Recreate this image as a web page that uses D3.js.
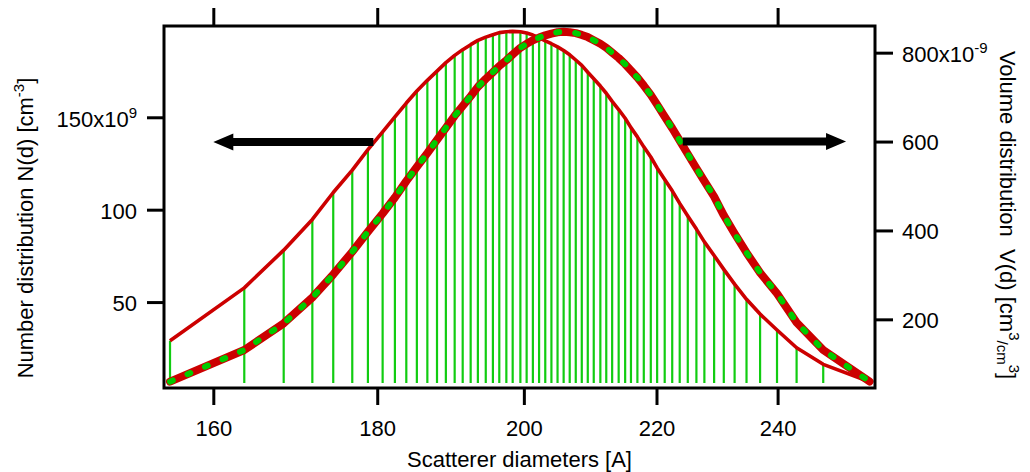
<!DOCTYPE html>
<html>
<head>
<meta charset="utf-8">
<script src="https://cdn.jsdelivr.net/npm/d3@7"></script>
<style>
body { margin: 0; background: #fff; }
svg { display: block; font-family: "Liberation Sans", Arial, Helvetica, sans-serif; }
</style>
</head>
<body>
<svg id="board" width="1030" height="472"></svg>
<script>
// Scatterer diameters [A] (log axis)
let diameters = [155.1, 163.6, 168.3, 171.8, 174.4, 176.8, 178.8, 180.7, 182.3, 183.8,
    185.2, 186.6, 187.9, 189.1, 190.3, 191.4, 192.5, 193.5, 194.6, 195.6,
    196.5, 197.5, 198.4, 199.5, 200.4, 201.3, 202.2, 203.1, 204.0, 204.9,
    205.8, 206.7, 207.6, 208.5, 209.4, 210.3, 211.3, 212.2, 213.1, 214.1,
    215.1, 216.0, 217.0, 218.0, 219.1, 220.1, 221.3, 222.5, 223.7, 225.0,
    226.4, 227.7, 229.3, 230.9, 232.7, 234.7, 237.0, 239.9, 243.3, 248.0, 256.4]

// Number distribution N(d), units of 1e9 cm^-3
let numberDist = [29.1, 57.7, 78.1, 94.7, 109.3, 121.4, 132.5, 142.1, 150.2, 157.7,
    164.2, 170.0, 175.0, 179.6, 183.5, 186.6, 189.3, 191.6, 193.4, 194.7,
    195.8, 196.3, 196.5, 196.3, 195.6, 194.5, 193.1, 191.4, 189.8, 188.1,
    186.1, 183.8, 181.0, 178.1, 174.4, 170.9, 166.9, 163.0, 158.6, 154.2,
    149.5, 144.4, 139.4, 134.0, 128.5, 122.6, 116.3, 110.2, 103.4, 96.6,
    89.5, 82.6, 75.2, 67.7, 59.7, 51.5, 43.5, 34.9, 25.3, 16.3, 6.9]

// Volume distribution V(d), units of 1e-9 cm^3/cm^3
let volumeDist = [59.8, 131, 191, 249, 301, 352, 397, 438, 474, 511,
    543, 574, 604, 631, 658, 680, 702, 723, 741, 756,
    770, 783, 796, 811, 820, 828, 834, 839, 843, 846,
    847, 846, 844, 840, 835, 828, 820, 811, 800, 788,
    774, 760, 744, 726, 705, 683, 656, 630, 602, 572,
    540, 511, 476, 434, 393, 350, 305, 258, 193, 131, 60]

let barBase = 6.2

let xTicks = [160, 180, 200, 220, 240]
let nTicks = [50, 100, 150]
let vTicks = [200, 400, 600, 800]

let xDomain = [154.43, 257.4]
let nDomain = [3.5, 199.4]
let vDomain = [45.5, 860]

// arrows: [from d, to d, value] ; left one on N axis, right one on V axis
let nArrow = [179.5, 160, 136.6]
let vArrow = [224.2, 252.1, 600]

let red = '#cc0000'
let green = '#11cc11'

let plotLeft = 164, plotRight = 875, plotTop = 26, plotBottom = 388

let board = d3.select('#board')

let xScale = d3.scaleLog().domain(xDomain).range([plotLeft, plotRight])
let nScale = d3.scaleLinear().domain(nDomain).range([plotBottom, plotTop])
let vScale = d3.scaleLinear().domain(vDomain).range([plotBottom, plotTop])

let rows = diameters.map((d, i) => ({ d: d, n: numberDist[i], v: volumeDist[i] }))

// sticks
board.append('g')
    .selectAll('line')
    .data(rows)
    .enter()
    .append('line')
    .attr('x1', (r) => xScale(r.d))
    .attr('x2', (r) => xScale(r.d))
    .attr('y1', nScale(barBase))
    .attr('y2', (r) => nScale(r.n))
    .attr('stroke', green)
    .attr('stroke-width', 2.2)

// N(d) line
let nLine = d3.line().x((r) => xScale(r.d)).y((r) => nScale(r.n))
board.append('path')
    .attr('d', nLine(rows))
    .attr('fill', 'none')
    .attr('stroke', red)
    .attr('stroke-width', 3.6)
    .attr('stroke-linejoin', 'round')

// V(d) line, thick red with green dots on top
let vLine = d3.line().x((r) => xScale(r.d)).y((r) => vScale(r.v))
board.append('path')
    .attr('d', vLine(rows))
    .attr('fill', 'none')
    .attr('stroke', red)
    .attr('stroke-width', 8)
    .attr('stroke-linejoin', 'round')
    .attr('stroke-linecap', 'round')
board.append('path')
    .attr('d', vLine(rows))
    .attr('fill', 'none')
    .attr('stroke', '#00cc00')
    .attr('stroke-width', 6)
    .attr('stroke-linecap', 'round')
    .attr('stroke-dasharray', '3,16')

// arrows
let arrowPath = (x0, x1, y) => {
    let dir = x1 > x0 ? 1 : -1
    let base = x1 - dir * 20
    return 'M' + x0 + ',' + (y - 4) + 'L' + base + ',' + (y - 4) + 'L' + base + ',' + (y - 8.5) +
        'L' + x1 + ',' + y + 'L' + base + ',' + (y + 8.5) + 'L' + base + ',' + (y + 4) +
        'L' + x0 + ',' + (y + 4) + 'Z'
}
board.append('path')
    .attr('d', arrowPath(xScale(nArrow[0]), xScale(nArrow[1]), nScale(nArrow[2])))
    .attr('fill', '#000')
board.append('path')
    .attr('d', arrowPath(xScale(vArrow[0]), xScale(vArrow[1]), vScale(vArrow[2])))
    .attr('fill', '#000')

// axes
let styleAxis = (g) => {
    g.select('.domain').remove()
    g.selectAll('.tick line').attr('stroke', '#000').attr('stroke-width', 3)
    g.selectAll('.tick text').attr('fill', '#000').attr('font-size', 22)
}

board.append('g')
    .attr('transform', 'translate(0,' + plotBottom + ')')
    .call(d3.axisBottom(xScale).tickValues(xTicks).tickFormat(d3.format('d')).tickSize(17).tickPadding(15))
    .call(styleAxis)

board.append('g')
    .attr('transform', 'translate(0,' + plotTop + ')')
    .call(d3.axisTop(xScale).tickValues(xTicks).tickFormat('').tickSize(18))
    .call(styleAxis)

board.append('g')
    .attr('transform', 'translate(' + plotLeft + ',0)')
    .call(d3.axisLeft(nScale).tickValues(nTicks).tickFormat(d3.format('d')).tickSize(17).tickPadding(10))
    .call(styleAxis)
    .call((g) => g.selectAll('.tick text').attr('dy', '0.4em').each(function (d) {
        if (d === 150) {
            let t = d3.select(this).text('')
            t.append('tspan').text('150x10')
            t.append('tspan').attr('dy', -9).attr('font-size', 15).text('9')
        }
    }))

board.append('g')
    .attr('transform', 'translate(' + plotRight + ',0)')
    .call(d3.axisRight(vScale).tickValues(vTicks).tickFormat(d3.format('d')).tickSize(18).tickPadding(9))
    .call(styleAxis)
    .call((g) => g.selectAll('.tick text').attr('dy', '0.38em').each(function (d) {
        if (d === 800) {
            let t = d3.select(this).text('')
            t.append('tspan').text('800x10')
            t.append('tspan').attr('dy', -9).attr('font-size', 15).text('-9')
        }
    }))

// frame
board.append('rect')
    .attr('x', plotLeft).attr('y', plotTop)
    .attr('width', plotRight - plotLeft).attr('height', plotBottom - plotTop)
    .attr('fill', 'none')
    .attr('stroke', '#000')
    .attr('stroke-width', 3)

// titles
board.append('text')
    .attr('x', (plotLeft + plotRight) / 2)
    .attr('y', 466.5)
    .attr('text-anchor', 'middle')
    .attr('font-size', 22)
    .text('Scatterer diameters [A]')

let nTitle = board.append('text')
    .attr('transform', 'translate(33,228) rotate(-90)')
    .attr('text-anchor', 'middle')
    .attr('font-size', 22)
nTitle.append('tspan').text('Number distribution N(d) [cm')
nTitle.append('tspan').attr('dy', -9).attr('font-size', 15).text('-3')
nTitle.append('tspan').attr('dy', 9).text(']')

let vTitle = board.append('text')
    .attr('transform', 'translate(1000,215) rotate(90)')
    .attr('text-anchor', 'middle')
    .attr('font-size', 22)
    .style('white-space', 'pre')
vTitle.append('tspan').text('Volume distribution  V(d) [cm')
vTitle.append('tspan').attr('dy', -9).attr('font-size', 15).text('3')
vTitle.append('tspan').attr('dy', 12).attr('font-size', 15).text('/cm')
vTitle.append('tspan').attr('dy', -12).attr('font-size', 15).text('3')
vTitle.append('tspan').attr('dy', 9).text(']')
</script>
</body>
</html>
